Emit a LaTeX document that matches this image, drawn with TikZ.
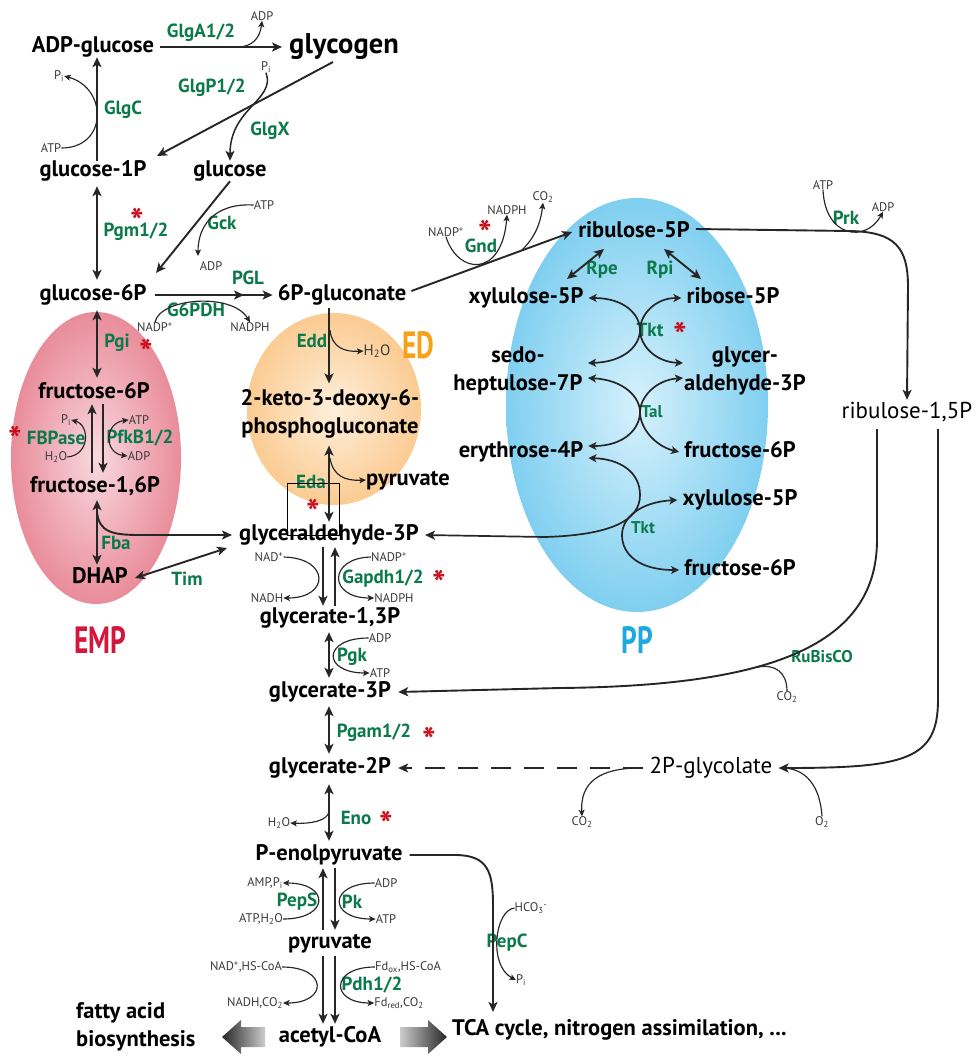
\documentclass[tikz,border=0pt]{standalone}
\usepackage{fontspec}
\usepackage{graphicx}
\setmainfont{PT Sans}
\usetikzlibrary{arrows.meta,calc}
\definecolor{enzgreen}{HTML}{0B7A4B}
\definecolor{starred}{HTML}{C8101E}
\definecolor{linec}{HTML}{262626}
\definecolor{cofc}{HTML}{3A3A3A}
\definecolor{empred}{HTML}{D4163C}
\definecolor{edorange}{HTML}{F7A11A}
\definecolor{ppblue}{HTML}{1CA8E0}
\definecolor{empin}{HTML}{F9D8DE}
\definecolor{empout}{HTML}{E98C9A}
\definecolor{edin}{HTML}{FEEFDA}
\definecolor{edout}{HTML}{FBCB92}
\definecolor{ppin}{HTML}{D6F1FC}
\definecolor{ppout}{HTML}{80CFF0}
\newcommand\metf{\bfseries\fontsize{22.5}{28}\selectfont}
\newcommand\metlf{\fontsize{23}{28}\selectfont}
\newcommand\bigf{\bfseries\fontsize{28.5}{30}\selectfont}
\newcommand\enzf{\bfseries\fontsize{19}{21}\selectfont}
\newcommand\enzsf{\bfseries\fontsize{17}{19}\selectfont}
\newcommand\coff{\fontsize{12.5}{14}\selectfont}
\newcommand\cofbf{\fontsize{15}{17}\selectfont}
\newcommand\astf{\bfseries\fontsize{36}{38}\selectfont}
\newcommand\labf{\bfseries\fontsize{38}{40}\selectfont}
\newcommand\sbs[1]{\textsubscript{#1}}
\newcommand\sps[1]{\textsuperscript{#1}}
\begin{document}
\begin{tikzpicture}[x=1pt,y=-1pt,
  met/.style={font=\metf, inner sep=0pt, text height=15pt, text depth=5pt},
  metl/.style={font=\metlf, inner sep=0pt, text height=15pt, text depth=5pt},
  mettwo/.style={font=\metf, inner sep=0pt, align=center},
  enz/.style={font=\enzf, text=enzgreen, inner sep=0pt},
  enzs/.style={font=\enzsf, text=enzgreen, inner sep=0pt},
  cof/.style={font=\coff, text=cofc, inner sep=0pt},
  cofb/.style={font=\cofbf, text=cofc, inner sep=0pt},
  ast/.style={font=\astf, text=starred, inner sep=0pt, yshift=-7pt},
  conn/.style={draw=linec, line width=1.9pt},
  one/.style={conn, -{Stealth[length=10pt,width=9pt,inset=2.5pt]}},
  two/.style={conn, {Stealth[length=10pt,width=9pt,inset=2.5pt]}-{Stealth[length=10pt,width=9pt,inset=2.5pt]}},
  ppc/.style={draw=linec, line width=1.7pt, {Stealth[length=8pt,width=8pt,inset=2pt]}-{Stealth[length=8pt,width=8pt,inset=2pt]}},
  aux/.style={draw=linec, line width=1.15pt},
  auxa/.style={aux, -{Stealth[length=6.5pt,width=6pt,inset=1.5pt]}},
  auxb/.style={aux, {Stealth[length=6.5pt,width=6pt,inset=1.5pt]}-{Stealth[length=6.5pt,width=6pt,inset=1.5pt]}},
]
\useasboundingbox (0,0) rectangle (976,1061);
\fill[white] (0,0) rectangle (976,1061);

% ---------- background ellipses ----------
\shade[inner color=empin, outer color=empout] (96,458) ellipse [x radius=85pt, y radius=146pt];
\shade[inner color=edin, outer color=edout] (334,409) ellipse [x radius=87pt, y radius=96pt];
\shade[inner color=ppin, outer color=ppout] (637,405) ellipse [x radius=131pt, y radius=207pt];

% ---------- metabolites ----------
\node[met] (adpg) at (93,47) {ADP-glucose};
\node[met, font=\bigf, text height=19pt, text depth=6pt] (glycogen) at (344,47) {glycogen};
\node[met] (g1p) at (93,171) {glucose-1P};
\node[met] (glc) at (230,171) {glucose};
\node[met] (g6p) at (93,295) {glucose-6P};
\node[met] (p6g) at (342,295) {6P-gluconate};
\node[met] (f6p) at (94,393) {fructose-6P};
\node[met] (fbp) at (95,487) {fructose-1,6P};
\node[met] (dhap) at (100,578) {DHAP};
\node[mettwo] (kdpg) at (330,414) {2-keto-3-deoxy-6-\\phosphogluconate};
\node[met] (pyred) at (408,480) {pyruvate};
\node[met] (gap) at (329,535) {glyceraldehyde-3P};
\node[met] (bpg) at (330,618) {glycerate-1,3P};
\node[met] (pg3) at (330,692) {glycerate-3P};
\node[met] (pg2) at (330,768) {glycerate-2P};
\node[met] (pep) at (329,855) {P-enolpyruvate};
\node[met] (pyr) at (330,943) {pyruvate};
\node[met] (acoa) at (330,1037) {acetyl-CoA};
\node[mettwo, align=left, anchor=west] (fatty) at (76,1027) {fatty acid\\biosynthesis};
\node[met, anchor=west] (tca) at (452,1030) {TCA cycle, nitrogen assimilation, ...};
\node[met] (ru5p) at (634,232) {ribulose-5P};
\node[met] (xu5p) at (526,298) {xylulose-5P};
\node[met] (r5p) at (733,298) {ribose-5P};
\node[mettwo] (s7p) at (518,371) {sedo-\\heptulose-7P};
\node[mettwo] (gap2) at (745,371) {glycer-\\aldehyde-3P};
\node[met] (e4p) at (521,452) {erythrose-4P};
\node[met] (f6pb) at (740,452) {fructose-6P};
\node[met] (xu5pb) at (740,500) {xylulose-5P};
\node[met] (f6pc) at (740,570) {fructose-6P};
\node[metl] (rubp) at (907,413) {ribulose-1,5P};
\node[metl] (glyco) at (711,768) {2P-glycolate};

% ---------- pathway labels ----------
\node[font=\labf, text=empred] (lemp) at (100,640) {\scalebox{0.72}[1]{EMP}};
\node[font=\labf, text=edorange] (led) at (418,345) {\scalebox{0.72}[1]{ED}};
\node[font=\labf, text=ppblue] (lpp) at (637,640) {\scalebox{0.72}[1]{PP}};

% ---------- enzymes ----------
\node[enz] (eglga) at (201,33) {GlgA1/2};
\node[enz] (eglgp) at (212,88) {GlgP1/2};
\node[enz] (eglgx) at (270,131) {GlgX};
\node[enz] (eglgc) at (123,110) {GlgC};
\node[enz] (epgm) at (136,232) {Pgm1/2};
\node[enz] (egck) at (222,223) {Gck};
\node[enz] (epgl) at (248,278) {PGL};
\node[enz] (eg6pdh) at (196,310) {G6PDH};
\node[enz] (epgi) at (117,343) {Pgi};
\node[enz] (eedd) at (312,341) {Edd};
\node[enz] (efbp) at (56,438) {FBPase};
\node[enz] (epfk) at (140,438) {PfkB1/2};
\node[enz] (efba) at (116,543) {Fba};
\node[enz] (etim) at (187,579) {Tim};
\node[enz] (eeda) at (311,482) {Eda};
\node[enz] (egapdh) at (383,579) {Gapdh1/2};
\node[enz] (epgk) at (352,657) {Pgk};
\node[enz] (epgam) at (374,733) {Pgam1/2};
\node[enz] (eeno) at (356,818) {Eno};
\node[enz] (epeps) at (297,902) {PepS};
\node[enz] (epk) at (352,902) {Pk};
\node[enz] (epdh) at (372,985) {Pdh1/2};
\node[enz] (epepc) at (507,943) {PepC};
\node[enz] (egnd) at (481,246) {Gnd};
\node[enz] (erpe) at (602,270) {Rpe};
\node[enz] (erpi) at (660,270) {Rpi};
\node[enz] (etkt) at (650,330) {Tkt};
\node[enzs] (etal) at (652,412) {Tal};
\node[enzs] (etktb) at (643,528) {Tkt};
\node[enz] (eprk) at (846,218) {Prk};
\node[enzs] (erub) at (822,657) {RuBisCO};

% ---------- cofactors ----------
\node[cof] (c1) at (262,16) {ADP};
\node[cof] (c2) at (266,67) {P\sbs{i}};
\node[cof] (c3) at (59,76) {P\sbs{i}};
\node[cof] (c4) at (51,148) {ATP};
\node[cof] (c5) at (264,205) {ATP};
\node[cof] (c6) at (211,266) {ADP};
\node[cof] (c7) at (155,327) {NADP\sps{+}};
\node[cof] (c8) at (250,327) {NADPH};
\node[cofb] (c9) at (377,351) {H\sbs{2}O};
\node[cof] (c10) at (66,420) {P\sbs{i}};
\node[cof] (c11) at (56,457) {H\sbs{2}O};
\node[cof] (c12) at (139,420) {ATP};
\node[cof] (c13) at (139,456) {ADP};
\node[cof] (c14) at (269,557) {NAD\sps{+}};
\node[cof] (c15) at (389,557) {NADP\sps{+}};
\node[cof] (c16) at (267,598) {NADH};
\node[cof] (c17) at (394,598) {NADPH};
\node[cof] (c18) at (380,638) {ADP};
\node[cof] (c19) at (380,673) {ATP};
\node[cof] (c20) at (279,823) {H\sbs{2}O};
\node[cof] (c21) at (265,883) {AMP,P\sbs{i}};
\node[cof] (c22) at (261,919) {ATP,H\sbs{2}O};
\node[cof] (c23) at (386,883) {ADP};
\node[cof] (c24) at (386,919) {ATP};
\node[cof] (c25) at (246,967) {NAD\sps{+},HS-CoA};
\node[cof] (c26) at (408,967) {Fd\sbs{ox},HS-CoA};
\node[cof] (c27) at (255,1003) {NADH,CO\sbs{2}};
\node[cof] (c28) at (399,1003) {Fd\sbs{red},CO\sbs{2}};
\node[cof] (c29) at (531,908) {HCO\sbs{3}\sps{-}};
\node[cof] (c30) at (521,980) {P\sbs{i}};
\node[cof] (c31) at (446,232) {NADP\sps{+}};
\node[cof] (c32) at (507,210) {NADPH};
\node[cof] (c33) at (543,197) {CO\sbs{2}};
\node[cof] (c34) at (823,185) {ATP};
\node[cof] (c35) at (883,207) {ADP};
\node[cof] (c36) at (787,697) {CO\sbs{2}};
\node[cof] (c37) at (582,822) {CO\sbs{2}};
\node[cof] (c38) at (822,822) {O\sbs{2}};

% ---------- asterisks ----------
\node[ast] (s1) at (137,214) {*};
\node[ast] (s2) at (146,345) {*};
\node[ast] (s3) at (15,432) {*};
\node[ast] (s4) at (313,505) {*};
\node[ast] (s5) at (439,576) {*};
\node[ast] (s6) at (429,733) {*};
\node[ast] (s7) at (386,817) {*};
\node[ast] (s8) at (485,226) {*};
\node[ast] (s9) at (680,328) {*};

% selection box
\node[draw=black, line width=0.8pt, minimum width=52pt, minimum height=52pt, inner sep=0pt] (selbox) at (313,509) {};

% ---------- connectors: glycogen ----------
\draw[one] ([xshift=6pt]adpg.east) -- ([xshift=-7pt]glycogen.west);
\draw[auxa] (238,47) .. controls (252,47) and (260,38) .. (c1.south);
\draw[one] (333,62) -- (157,156);
\draw[one, line width=1.5pt] (c2.south) .. controls (276,100) and (230,108) .. (glc.north);
\draw[one] ([xshift=4pt]g1p.north) -- ([xshift=4pt]adpg.south);
\draw[auxa] (c4.east) .. controls (108,148) and (108,88) .. (c3.east);
\draw[two, shorten <=5pt, shorten >=5pt] ([xshift=4pt]g1p.south) -- ([xshift=4pt]g6p.north);
\draw[one] (glc.south) -- (156,273);
\draw[auxa] (c5.west) .. controls (215,203) and (198,225) .. (198,256);
% G6PDH / PGL
\draw[one] ([xshift=8pt]g6p.east) -- (244,295);
\draw[one] (236,295) -- ([xshift=-5pt]p6g.west);
\draw[auxa] (c7.north) .. controls (160,298) and (232,292) .. (c8.north);
% EMP
\draw[two, shorten <=5pt, shorten >=5pt] ([xshift=4pt]g6p.south) -- ([xshift=4pt]g6p.south |- f6p.north);
\draw[one, shorten <=4pt, shorten >=1pt] ([xshift=-2pt]f6p.south |- fbp.north) -- ([xshift=-2pt]f6p.south);
\draw[one, shorten <=1pt, shorten >=4pt] ([xshift=9pt]f6p.south) -- ([xshift=9pt]f6p.south |- fbp.north);
\draw[auxa] (c11.east) .. controls (90,455) and (90,425) .. (c10.east);
\draw[auxb] (c12.west) .. controls (104,423) and (104,453) .. (c13.west);
\draw[two, shorten <=3pt, shorten >=3pt] ([xshift=2pt]fbp.south) -- ([xshift=2pt]fbp.south |- dhap.north);
\draw[one] (97,512) .. controls (99,532) and (112,535) .. (140,535) -- ([xshift=-7pt]gap.west);
\draw[two] ([xshift=7pt]dhap.east) -- (227,548);
% ED
\draw[one, shorten <=3pt, shorten >=6pt] ([xshift=-13pt]p6g.south) -- ([xshift=-13pt]p6g.south |- kdpg.north);
\draw[auxa] (330,330) .. controls (332,348) and (345,352) .. (c9.west);
\draw[two, shorten <=7pt, shorten >=3pt] ([xshift=-1pt]kdpg.south) -- ([xshift=-1pt]kdpg.south |- gap.north);
\draw[auxa] (330,458) .. controls (333,476) and (345,481) .. (pyred.west);
% lower glycolysis
\draw[one, shorten <=2pt, shorten >=2pt] ([xshift=-6pt]gap.south) -- ([xshift=-6pt]gap.south |- bpg.north);
\draw[one, shorten <=2pt, shorten >=2pt] ([xshift=6pt]gap.south |- bpg.north) -- ([xshift=6pt]gap.south);
\draw[auxa] (c14.east) .. controls (330,558) and (330,598) .. (c16.east);
\draw[auxa] (c15.west) .. controls (328,558) and (328,598) .. (c17.west);
\draw[two, shorten <=4pt, shorten >=4pt] ([xshift=-1pt]bpg.south) -- ([xshift=-1pt]bpg.south |- pg3.north);
\draw[auxa] (c18.west) .. controls (322,638) and (322,673) .. (c19.west);
\draw[two, shorten <=4pt, shorten >=4pt] ([xshift=-1pt]pg3.south) -- ([xshift=-1pt]pg3.south |- pg2.north);
\draw[two, shorten <=6pt, shorten >=4pt] ([xshift=-1pt]pg2.south) -- ([xshift=-1pt]pg2.south |- pep.north);
\draw[auxa] (329,812) .. controls (327,821) and (310,824) .. (c20.east);
\draw[one, shorten <=3pt, shorten >=3pt] ([xshift=-6pt]pep.south |- pyr.north) -- ([xshift=-6pt]pep.south);
\draw[one, shorten <=3pt, shorten >=3pt] ([xshift=6pt]pep.south) -- ([xshift=6pt]pep.south |- pyr.north);
\draw[auxa] (c22.east) .. controls (330,919) and (330,883) .. (c21.east);
\draw[auxa] (c23.west) .. controls (328,883) and (328,919) .. (c24.west);
\draw[one, shorten <=3pt, shorten >=3pt] ([xshift=-7pt]pyr.south) -- ([xshift=-7pt]pyr.south |- acoa.north);
\draw[one, shorten <=3pt, shorten >=3pt] ([xshift=5pt]pyr.south) -- ([xshift=5pt]pyr.south |- acoa.north);
\draw[auxa] (c25.east) .. controls (328,967) and (328,1003) .. (c27.east);
\draw[auxa] (c26.west) .. controls (330,967) and (330,1003) .. (c28.west);
\draw[one] ([xshift=7pt]pep.east) -- (455,855) .. controls (488,855) and (493,872) .. (493,905) -- (493,1012);
\draw[auxa] (c29.west) .. controls (495,910) and (488,965) .. (c30.west);
% block arrows
\shade[left color=black!85, right color=black!20] (222,1037) -- (241,1020) -- (241,1027) -- (265,1027) -- (265,1047) -- (241,1047) -- (241,1054) -- cycle;
\shade[left color=black!20, right color=black!85] (447,1037) -- (428,1020) -- (428,1027) -- (400,1027) -- (400,1047) -- (428,1047) -- (428,1054) -- cycle;
% ---------- PP ----------
\draw[one] ([xshift=5pt,yshift=4pt]p6g.east) -- ([xshift=-6pt]ru5p.west);
\draw[auxa] (c31.south) .. controls (458,275) and (502,278) .. (c32.south);
\draw[auxa] (522,250) .. controls (532,240) and (540,228) .. (c33.south);
\draw[two] (604,249) -- (567,279);
\draw[two] (664,249) -- (701,279);
\draw[ppc] ([xshift=5pt]xu5p.east) .. controls (625,298) and (640,315) .. (640,330) .. controls (640,345) and (655,362) .. (683,363);
\draw[ppc] ([xshift=-5pt]r5p.west) .. controls (655,298) and (640,315) .. (640,330) .. controls (640,345) and (625,362) .. (588,363);
\draw[ppc] (588,378) .. controls (625,380) and (640,398) .. (640,412) .. controls (640,428) and (655,446) .. ([xshift=-5pt]f6pb.west);
\draw[ppc] (683,378) .. controls (655,380) and (640,398) .. (640,412) .. controls (640,428) and (625,446) .. ([xshift=5pt,yshift=6pt]e4p.east);
\draw[ppc, {Stealth[length=10pt,width=9pt,inset=2.5pt]}-{Stealth[length=8pt,width=8pt,inset=2pt]}] ([xshift=6pt]gap.east) -- (545,537) .. controls (612,535) and (640,520) .. (640,495) .. controls (640,472) and (620,459) .. ([xshift=5pt,yshift=-6pt]e4p.east);
\draw[ppc] ([xshift=-5pt]xu5pb.west) .. controls (640,502) and (622,518) .. (622,535) .. controls (622,555) and (640,570) .. ([xshift=-5pt]f6pc.west);
\draw[one] ([xshift=6pt,yshift=3pt]ru5p.east) -- (850,231) .. controls (895,232) and (908,247) .. (908,287) -- ([yshift=3pt]rubp.north);
\draw[auxa] (c34.south) .. controls (825,238) and (866,243) .. (c35.south);
\draw[one] ([xshift=-30pt,yshift=-6pt]rubp.south) -- (877,540) .. controls (877,650) and (760,686) .. (560,688) -- ([xshift=7pt]pg3.east);
\draw[aux] (c36.north) .. controls (787,672) and (775,664) .. (758,667);
\draw[one] ([xshift=31pt,yshift=-6pt]rubp.south) -- (938,700) .. controls (938,760) and (905,768) .. ([xshift=6pt]glyco.east);
\draw[aux] (c38.north) .. controls (820,785) and (805,768) .. (782,768);
\draw[one, dash pattern=on 20pt off 13pt] ([xshift=-6pt]glyco.west) -- ([xshift=7pt]pg2.east);
\draw[auxa] (640,768) .. controls (600,768) and (580,782) .. (c37.north);
\end{tikzpicture}
\end{document}
